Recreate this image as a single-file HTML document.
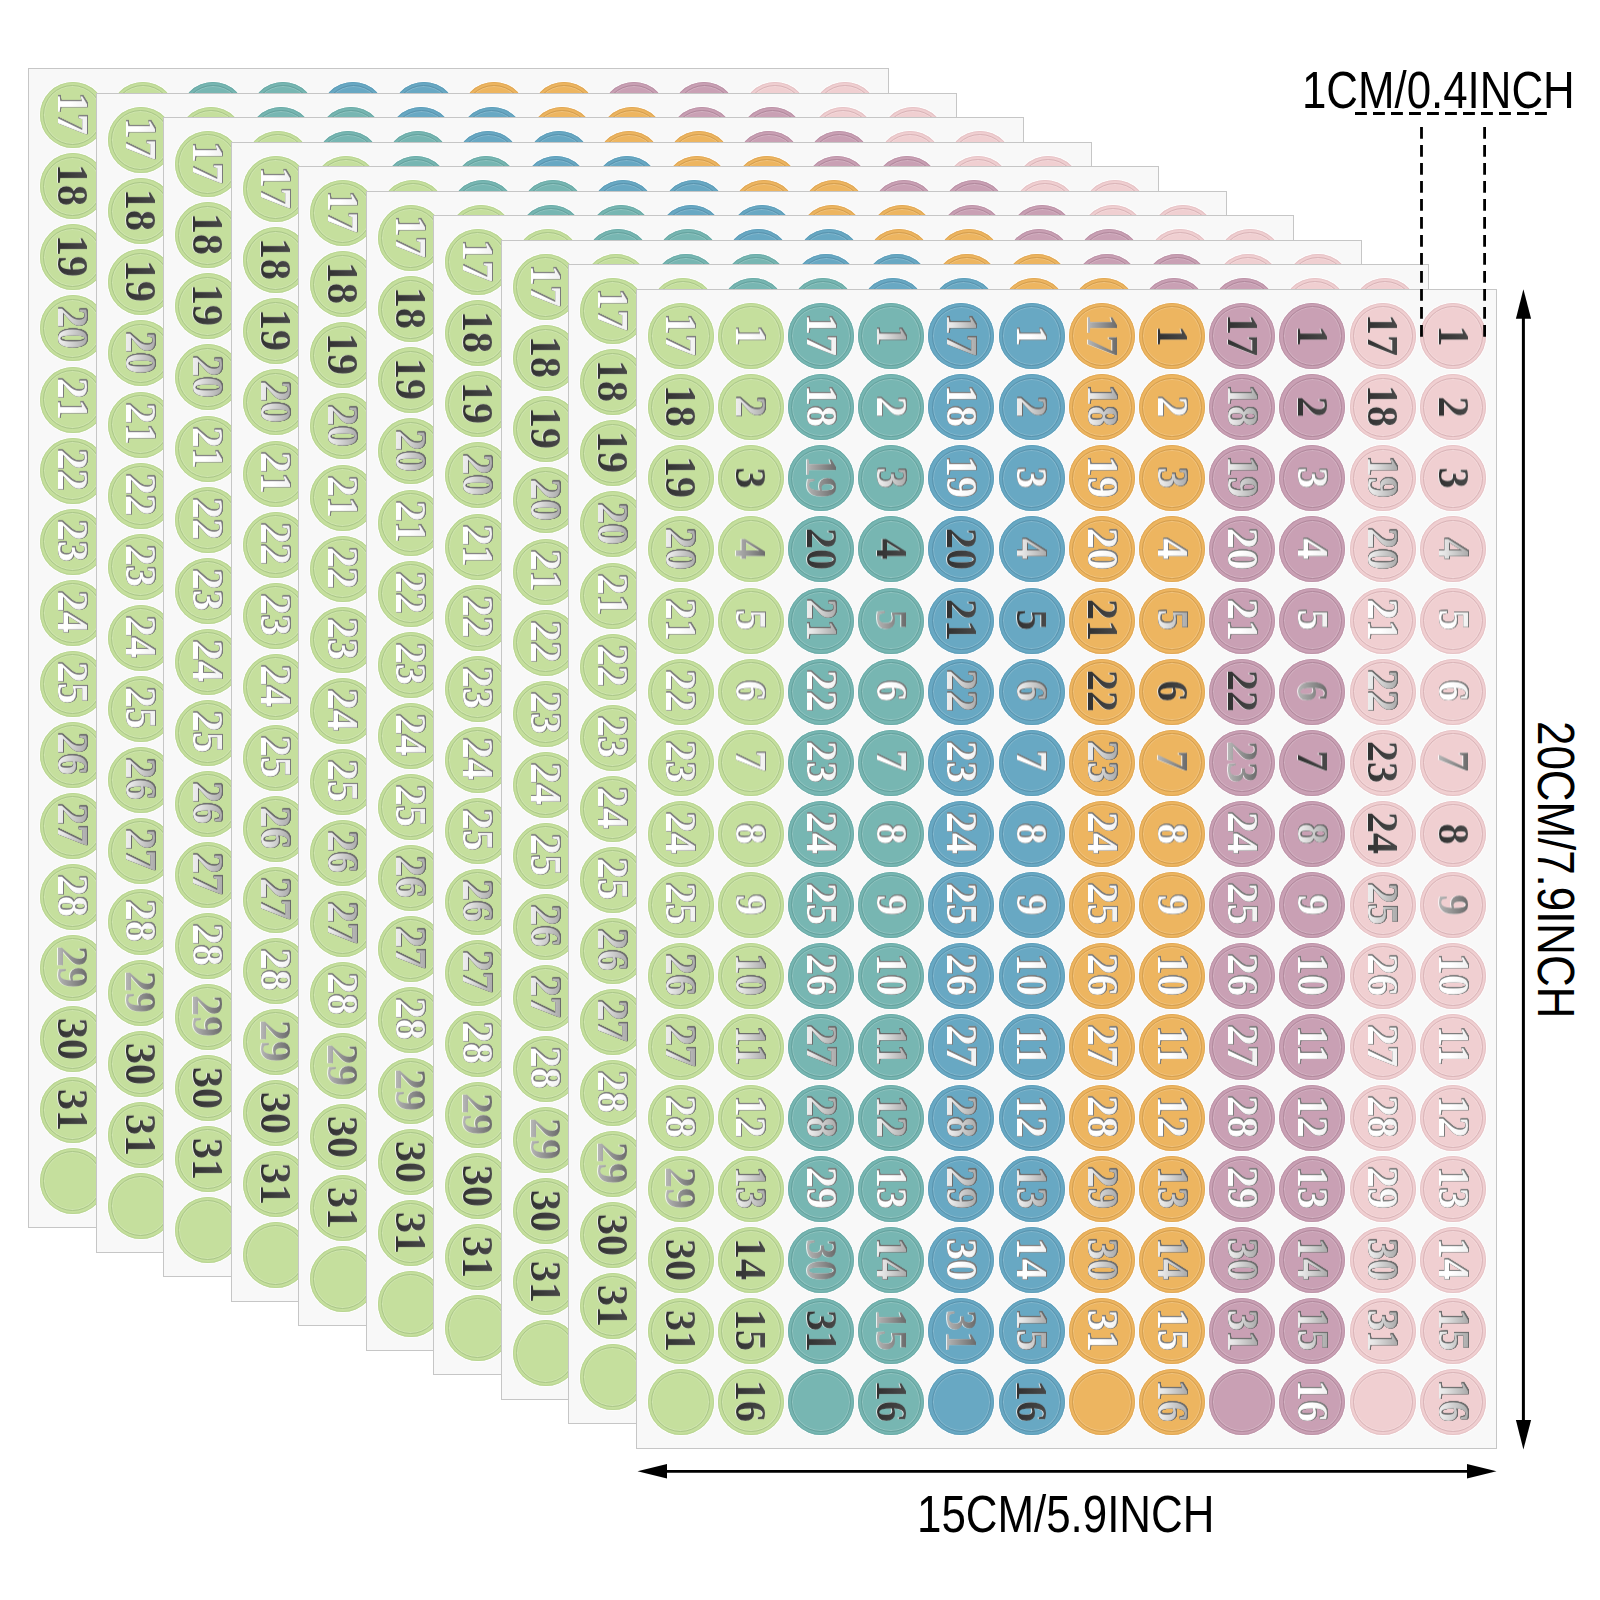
<!DOCTYPE html>
<html><head><meta charset="utf-8"><title>Number stickers</title><style>
*{margin:0;padding:0;box-sizing:border-box}
html,body{width:1600px;height:1600px;background:#fff;overflow:hidden}
body{position:relative;font-family:"Liberation Serif",serif}
.s{position:absolute;width:861px;height:1160px;background:#f8f8f8;border:1px solid #c6c6c6}
.c{position:absolute;width:66px;height:66px;border-radius:50%}
.c::after{content:"";position:absolute;left:3.2px;top:3.2px;right:3.2px;bottom:3.2px;border-radius:50%;border:1.1px solid var(--r);box-shadow:inset 0 0 0 1px rgba(255,255,255,.18)}
.cg{--r:#aac689;background:#c5df9d;box-shadow:inset 0 0 0 1px #b9d592,0 0 1px 1px rgba(255,255,255,.8)}
.ct{--r:#64a19d;background:#77b6b2;box-shadow:inset 0 0 0 1px #6cacA8,0 0 1px 1px rgba(255,255,255,.8)}
.cb{--r:#5892ad;background:#68a8c3;box-shadow:inset 0 0 0 1px #5f9fba,0 0 1px 1px rgba(255,255,255,.8)}
.co{--r:#d39d4e;background:#edb560;box-shadow:inset 0 0 0 1px #e1a957,0 0 1px 1px rgba(255,255,255,.8)}
.cm{--r:#b0879b;background:#c9a0b4;box-shadow:inset 0 0 0 1px #bd94a8,0 0 1px 1px rgba(255,255,255,.8)}
.cp{--r:#d9b3b7;background:#f0cfd1;box-shadow:inset 0 0 0 1px #e6c3c6,0 0 1px 1px rgba(255,255,255,.8)}
.n{position:absolute;font-style:normal;font-weight:bold;font-size:44px;line-height:1;white-space:nowrap;transform:translate(-50%,-50%) rotate(90deg) scaleX(.96);-webkit-background-clip:text;background-clip:text;color:transparent}
.tw{background-image:linear-gradient(180deg,#ebebeb,#fff 55%);filter:drop-shadow(.5px 0 0 #7a7a7a) drop-shadow(-.5px 0 0 #7a7a7a) drop-shadow(0 .5px 0 #7a7a7a) drop-shadow(0 -.5px 0 #7a7a7a)}
.tl{background-image:linear-gradient(180deg,#9a9a9a,#e6e6e6 70%,#f8f8f8);filter:drop-shadow(.5px 0 0 #6a6a6a) drop-shadow(-.5px 0 0 #6a6a6a) drop-shadow(0 .5px 0 #6a6a6a) drop-shadow(0 -.5px 0 #6a6a6a)}
.tm{background-image:linear-gradient(180deg,#5a5a5a,#a6a6a6 70%,#cfcfcf);filter:drop-shadow(0 1px 0 rgba(255,255,255,.8))}
.td{background-image:linear-gradient(180deg,#4e4e4e,#2b2b2b);filter:drop-shadow(0 1.2px 0 rgba(240,240,240,.9))}
.lab{position:absolute;font-family:"Liberation Sans",sans-serif;color:#000;line-height:1;white-space:nowrap;transform-origin:0 0}
</style></head>
<body>
<div class="s" style="left:28px;top:68px"><div class="c cg" style="left:10.60px;top:13.25px"><i class="n tw" style="left:32.7px;top:31.8px">17</i></div><div class="c cg" style="left:10.60px;top:84.32px"><i class="n td" style="left:32.7px;top:31.8px">18</i></div><div class="c cg" style="left:10.60px;top:155.39px"><i class="n td" style="left:32.7px;top:31.8px">19</i></div><div class="c cg" style="left:10.60px;top:226.46px"><i class="n tl" style="left:32.7px;top:32.8px">20</i></div><div class="c cg" style="left:10.60px;top:297.53px"><i class="n tw" style="left:32.7px;top:32.8px">21</i></div><div class="c cg" style="left:10.60px;top:368.60px"><i class="n tw" style="left:32.7px;top:32.8px">22</i></div><div class="c cg" style="left:10.60px;top:439.67px"><i class="n tw" style="left:32.7px;top:32.3px">23</i></div><div class="c cg" style="left:10.60px;top:510.74px"><i class="n tw" style="left:32.7px;top:32.3px">24</i></div><div class="c cg" style="left:10.60px;top:581.81px"><i class="n tw" style="left:32.7px;top:32.3px">25</i></div><div class="c cg" style="left:10.60px;top:652.88px"><i class="n tl" style="left:32.7px;top:32.3px">26</i></div><div class="c cg" style="left:10.60px;top:723.95px"><i class="n tl" style="left:32.7px;top:32.3px">27</i></div><div class="c cg" style="left:10.60px;top:795.02px"><i class="n tw" style="left:32.7px;top:32.3px">28</i></div><div class="c cg" style="left:10.60px;top:866.09px"><i class="n tm" style="left:32.7px;top:32.3px">29</i></div><div class="c cg" style="left:10.60px;top:937.16px"><i class="n td" style="left:32.7px;top:32.8px">30</i></div><div class="c cg" style="left:10.60px;top:1008.23px"><i class="n td" style="left:32.7px;top:32.8px">31</i></div><div class="c cg" style="left:10.60px;top:1079.30px"></div><div class="c cg" style="left:80.81px;top:13.25px"><i class="n tw" style="left:32.7px;top:32.3px">1</i></div><div class="c ct" style="left:151.02px;top:13.25px"><i class="n tw" style="left:32.7px;top:31.8px">17</i></div><div class="c ct" style="left:221.23px;top:13.25px"><i class="n tl" style="left:32.7px;top:32.3px">1</i></div><div class="c cb" style="left:291.44px;top:13.25px"><i class="n tl" style="left:32.7px;top:31.8px">17</i></div><div class="c cb" style="left:361.65px;top:13.25px"><i class="n tw" style="left:32.7px;top:32.3px">1</i></div><div class="c co" style="left:431.86px;top:13.25px"><i class="n tm" style="left:32.7px;top:31.8px">17</i></div><div class="c co" style="left:502.07px;top:13.25px"><i class="n td" style="left:32.7px;top:32.3px">1</i></div><div class="c cm" style="left:572.28px;top:13.25px"><i class="n td" style="left:32.7px;top:31.8px">17</i></div><div class="c cm" style="left:642.49px;top:13.25px"><i class="n td" style="left:32.7px;top:32.3px">1</i></div><div class="c cp" style="left:712.70px;top:13.25px"><i class="n td" style="left:32.7px;top:31.8px">17</i></div><div class="c cp" style="left:782.91px;top:13.25px"><i class="n td" style="left:32.7px;top:32.3px">1</i></div></div><div class="s" style="left:96px;top:93px"><div class="c cg" style="left:10.60px;top:13.25px"><i class="n tw" style="left:32.7px;top:31.8px">17</i></div><div class="c cg" style="left:10.60px;top:84.32px"><i class="n td" style="left:32.7px;top:31.8px">18</i></div><div class="c cg" style="left:10.60px;top:155.39px"><i class="n td" style="left:32.7px;top:31.8px">19</i></div><div class="c cg" style="left:10.60px;top:226.46px"><i class="n tl" style="left:32.7px;top:32.8px">20</i></div><div class="c cg" style="left:10.60px;top:297.53px"><i class="n tw" style="left:32.7px;top:32.8px">21</i></div><div class="c cg" style="left:10.60px;top:368.60px"><i class="n tw" style="left:32.7px;top:32.8px">22</i></div><div class="c cg" style="left:10.60px;top:439.67px"><i class="n tw" style="left:32.7px;top:32.3px">23</i></div><div class="c cg" style="left:10.60px;top:510.74px"><i class="n tw" style="left:32.7px;top:32.3px">24</i></div><div class="c cg" style="left:10.60px;top:581.81px"><i class="n tw" style="left:32.7px;top:32.3px">25</i></div><div class="c cg" style="left:10.60px;top:652.88px"><i class="n tl" style="left:32.7px;top:32.3px">26</i></div><div class="c cg" style="left:10.60px;top:723.95px"><i class="n tl" style="left:32.7px;top:32.3px">27</i></div><div class="c cg" style="left:10.60px;top:795.02px"><i class="n tw" style="left:32.7px;top:32.3px">28</i></div><div class="c cg" style="left:10.60px;top:866.09px"><i class="n tm" style="left:32.7px;top:32.3px">29</i></div><div class="c cg" style="left:10.60px;top:937.16px"><i class="n td" style="left:32.7px;top:32.8px">30</i></div><div class="c cg" style="left:10.60px;top:1008.23px"><i class="n td" style="left:32.7px;top:32.8px">31</i></div><div class="c cg" style="left:10.60px;top:1079.30px"></div><div class="c cg" style="left:80.81px;top:13.25px"><i class="n tw" style="left:32.7px;top:32.3px">1</i></div><div class="c ct" style="left:151.02px;top:13.25px"><i class="n tw" style="left:32.7px;top:31.8px">17</i></div><div class="c ct" style="left:221.23px;top:13.25px"><i class="n tl" style="left:32.7px;top:32.3px">1</i></div><div class="c cb" style="left:291.44px;top:13.25px"><i class="n tl" style="left:32.7px;top:31.8px">17</i></div><div class="c cb" style="left:361.65px;top:13.25px"><i class="n tw" style="left:32.7px;top:32.3px">1</i></div><div class="c co" style="left:431.86px;top:13.25px"><i class="n tm" style="left:32.7px;top:31.8px">17</i></div><div class="c co" style="left:502.07px;top:13.25px"><i class="n td" style="left:32.7px;top:32.3px">1</i></div><div class="c cm" style="left:572.28px;top:13.25px"><i class="n td" style="left:32.7px;top:31.8px">17</i></div><div class="c cm" style="left:642.49px;top:13.25px"><i class="n td" style="left:32.7px;top:32.3px">1</i></div><div class="c cp" style="left:712.70px;top:13.25px"><i class="n td" style="left:32.7px;top:31.8px">17</i></div><div class="c cp" style="left:782.91px;top:13.25px"><i class="n td" style="left:32.7px;top:32.3px">1</i></div></div><div class="s" style="left:163px;top:117px"><div class="c cg" style="left:10.60px;top:13.25px"><i class="n tw" style="left:32.7px;top:31.8px">17</i></div><div class="c cg" style="left:10.60px;top:84.32px"><i class="n td" style="left:32.7px;top:31.8px">18</i></div><div class="c cg" style="left:10.60px;top:155.39px"><i class="n td" style="left:32.7px;top:31.8px">19</i></div><div class="c cg" style="left:10.60px;top:226.46px"><i class="n tl" style="left:32.7px;top:32.8px">20</i></div><div class="c cg" style="left:10.60px;top:297.53px"><i class="n tw" style="left:32.7px;top:32.8px">21</i></div><div class="c cg" style="left:10.60px;top:368.60px"><i class="n tw" style="left:32.7px;top:32.8px">22</i></div><div class="c cg" style="left:10.60px;top:439.67px"><i class="n tw" style="left:32.7px;top:32.3px">23</i></div><div class="c cg" style="left:10.60px;top:510.74px"><i class="n tw" style="left:32.7px;top:32.3px">24</i></div><div class="c cg" style="left:10.60px;top:581.81px"><i class="n tw" style="left:32.7px;top:32.3px">25</i></div><div class="c cg" style="left:10.60px;top:652.88px"><i class="n tl" style="left:32.7px;top:32.3px">26</i></div><div class="c cg" style="left:10.60px;top:723.95px"><i class="n tl" style="left:32.7px;top:32.3px">27</i></div><div class="c cg" style="left:10.60px;top:795.02px"><i class="n tw" style="left:32.7px;top:32.3px">28</i></div><div class="c cg" style="left:10.60px;top:866.09px"><i class="n tm" style="left:32.7px;top:32.3px">29</i></div><div class="c cg" style="left:10.60px;top:937.16px"><i class="n td" style="left:32.7px;top:32.8px">30</i></div><div class="c cg" style="left:10.60px;top:1008.23px"><i class="n td" style="left:32.7px;top:32.8px">31</i></div><div class="c cg" style="left:10.60px;top:1079.30px"></div><div class="c cg" style="left:80.81px;top:13.25px"><i class="n tw" style="left:32.7px;top:32.3px">1</i></div><div class="c ct" style="left:151.02px;top:13.25px"><i class="n tw" style="left:32.7px;top:31.8px">17</i></div><div class="c ct" style="left:221.23px;top:13.25px"><i class="n tl" style="left:32.7px;top:32.3px">1</i></div><div class="c cb" style="left:291.44px;top:13.25px"><i class="n tl" style="left:32.7px;top:31.8px">17</i></div><div class="c cb" style="left:361.65px;top:13.25px"><i class="n tw" style="left:32.7px;top:32.3px">1</i></div><div class="c co" style="left:431.86px;top:13.25px"><i class="n tm" style="left:32.7px;top:31.8px">17</i></div><div class="c co" style="left:502.07px;top:13.25px"><i class="n td" style="left:32.7px;top:32.3px">1</i></div><div class="c cm" style="left:572.28px;top:13.25px"><i class="n td" style="left:32.7px;top:31.8px">17</i></div><div class="c cm" style="left:642.49px;top:13.25px"><i class="n td" style="left:32.7px;top:32.3px">1</i></div><div class="c cp" style="left:712.70px;top:13.25px"><i class="n td" style="left:32.7px;top:31.8px">17</i></div><div class="c cp" style="left:782.91px;top:13.25px"><i class="n td" style="left:32.7px;top:32.3px">1</i></div></div><div class="s" style="left:231px;top:142px"><div class="c cg" style="left:10.60px;top:13.25px"><i class="n tw" style="left:32.7px;top:31.8px">17</i></div><div class="c cg" style="left:10.60px;top:84.32px"><i class="n td" style="left:32.7px;top:31.8px">18</i></div><div class="c cg" style="left:10.60px;top:155.39px"><i class="n td" style="left:32.7px;top:31.8px">19</i></div><div class="c cg" style="left:10.60px;top:226.46px"><i class="n tl" style="left:32.7px;top:32.8px">20</i></div><div class="c cg" style="left:10.60px;top:297.53px"><i class="n tw" style="left:32.7px;top:32.8px">21</i></div><div class="c cg" style="left:10.60px;top:368.60px"><i class="n tw" style="left:32.7px;top:32.8px">22</i></div><div class="c cg" style="left:10.60px;top:439.67px"><i class="n tw" style="left:32.7px;top:32.3px">23</i></div><div class="c cg" style="left:10.60px;top:510.74px"><i class="n tw" style="left:32.7px;top:32.3px">24</i></div><div class="c cg" style="left:10.60px;top:581.81px"><i class="n tw" style="left:32.7px;top:32.3px">25</i></div><div class="c cg" style="left:10.60px;top:652.88px"><i class="n tl" style="left:32.7px;top:32.3px">26</i></div><div class="c cg" style="left:10.60px;top:723.95px"><i class="n tl" style="left:32.7px;top:32.3px">27</i></div><div class="c cg" style="left:10.60px;top:795.02px"><i class="n tw" style="left:32.7px;top:32.3px">28</i></div><div class="c cg" style="left:10.60px;top:866.09px"><i class="n tm" style="left:32.7px;top:32.3px">29</i></div><div class="c cg" style="left:10.60px;top:937.16px"><i class="n td" style="left:32.7px;top:32.8px">30</i></div><div class="c cg" style="left:10.60px;top:1008.23px"><i class="n td" style="left:32.7px;top:32.8px">31</i></div><div class="c cg" style="left:10.60px;top:1079.30px"></div><div class="c cg" style="left:80.81px;top:13.25px"><i class="n tw" style="left:32.7px;top:32.3px">1</i></div><div class="c ct" style="left:151.02px;top:13.25px"><i class="n tw" style="left:32.7px;top:31.8px">17</i></div><div class="c ct" style="left:221.23px;top:13.25px"><i class="n tl" style="left:32.7px;top:32.3px">1</i></div><div class="c cb" style="left:291.44px;top:13.25px"><i class="n tl" style="left:32.7px;top:31.8px">17</i></div><div class="c cb" style="left:361.65px;top:13.25px"><i class="n tw" style="left:32.7px;top:32.3px">1</i></div><div class="c co" style="left:431.86px;top:13.25px"><i class="n tm" style="left:32.7px;top:31.8px">17</i></div><div class="c co" style="left:502.07px;top:13.25px"><i class="n td" style="left:32.7px;top:32.3px">1</i></div><div class="c cm" style="left:572.28px;top:13.25px"><i class="n td" style="left:32.7px;top:31.8px">17</i></div><div class="c cm" style="left:642.49px;top:13.25px"><i class="n td" style="left:32.7px;top:32.3px">1</i></div><div class="c cp" style="left:712.70px;top:13.25px"><i class="n td" style="left:32.7px;top:31.8px">17</i></div><div class="c cp" style="left:782.91px;top:13.25px"><i class="n td" style="left:32.7px;top:32.3px">1</i></div></div><div class="s" style="left:298px;top:166px"><div class="c cg" style="left:10.60px;top:13.25px"><i class="n tw" style="left:32.7px;top:31.8px">17</i></div><div class="c cg" style="left:10.60px;top:84.32px"><i class="n td" style="left:32.7px;top:31.8px">18</i></div><div class="c cg" style="left:10.60px;top:155.39px"><i class="n td" style="left:32.7px;top:31.8px">19</i></div><div class="c cg" style="left:10.60px;top:226.46px"><i class="n tl" style="left:32.7px;top:32.8px">20</i></div><div class="c cg" style="left:10.60px;top:297.53px"><i class="n tw" style="left:32.7px;top:32.8px">21</i></div><div class="c cg" style="left:10.60px;top:368.60px"><i class="n tw" style="left:32.7px;top:32.8px">22</i></div><div class="c cg" style="left:10.60px;top:439.67px"><i class="n tw" style="left:32.7px;top:32.3px">23</i></div><div class="c cg" style="left:10.60px;top:510.74px"><i class="n tw" style="left:32.7px;top:32.3px">24</i></div><div class="c cg" style="left:10.60px;top:581.81px"><i class="n tw" style="left:32.7px;top:32.3px">25</i></div><div class="c cg" style="left:10.60px;top:652.88px"><i class="n tl" style="left:32.7px;top:32.3px">26</i></div><div class="c cg" style="left:10.60px;top:723.95px"><i class="n tl" style="left:32.7px;top:32.3px">27</i></div><div class="c cg" style="left:10.60px;top:795.02px"><i class="n tw" style="left:32.7px;top:32.3px">28</i></div><div class="c cg" style="left:10.60px;top:866.09px"><i class="n tm" style="left:32.7px;top:32.3px">29</i></div><div class="c cg" style="left:10.60px;top:937.16px"><i class="n td" style="left:32.7px;top:32.8px">30</i></div><div class="c cg" style="left:10.60px;top:1008.23px"><i class="n td" style="left:32.7px;top:32.8px">31</i></div><div class="c cg" style="left:10.60px;top:1079.30px"></div><div class="c cg" style="left:80.81px;top:13.25px"><i class="n tw" style="left:32.7px;top:32.3px">1</i></div><div class="c ct" style="left:151.02px;top:13.25px"><i class="n tw" style="left:32.7px;top:31.8px">17</i></div><div class="c ct" style="left:221.23px;top:13.25px"><i class="n tl" style="left:32.7px;top:32.3px">1</i></div><div class="c cb" style="left:291.44px;top:13.25px"><i class="n tl" style="left:32.7px;top:31.8px">17</i></div><div class="c cb" style="left:361.65px;top:13.25px"><i class="n tw" style="left:32.7px;top:32.3px">1</i></div><div class="c co" style="left:431.86px;top:13.25px"><i class="n tm" style="left:32.7px;top:31.8px">17</i></div><div class="c co" style="left:502.07px;top:13.25px"><i class="n td" style="left:32.7px;top:32.3px">1</i></div><div class="c cm" style="left:572.28px;top:13.25px"><i class="n td" style="left:32.7px;top:31.8px">17</i></div><div class="c cm" style="left:642.49px;top:13.25px"><i class="n td" style="left:32.7px;top:32.3px">1</i></div><div class="c cp" style="left:712.70px;top:13.25px"><i class="n td" style="left:32.7px;top:31.8px">17</i></div><div class="c cp" style="left:782.91px;top:13.25px"><i class="n td" style="left:32.7px;top:32.3px">1</i></div></div><div class="s" style="left:366px;top:191px"><div class="c cg" style="left:10.60px;top:13.25px"><i class="n tw" style="left:32.7px;top:31.8px">17</i></div><div class="c cg" style="left:10.60px;top:84.32px"><i class="n td" style="left:32.7px;top:31.8px">18</i></div><div class="c cg" style="left:10.60px;top:155.39px"><i class="n td" style="left:32.7px;top:31.8px">19</i></div><div class="c cg" style="left:10.60px;top:226.46px"><i class="n tl" style="left:32.7px;top:32.8px">20</i></div><div class="c cg" style="left:10.60px;top:297.53px"><i class="n tw" style="left:32.7px;top:32.8px">21</i></div><div class="c cg" style="left:10.60px;top:368.60px"><i class="n tw" style="left:32.7px;top:32.8px">22</i></div><div class="c cg" style="left:10.60px;top:439.67px"><i class="n tw" style="left:32.7px;top:32.3px">23</i></div><div class="c cg" style="left:10.60px;top:510.74px"><i class="n tw" style="left:32.7px;top:32.3px">24</i></div><div class="c cg" style="left:10.60px;top:581.81px"><i class="n tw" style="left:32.7px;top:32.3px">25</i></div><div class="c cg" style="left:10.60px;top:652.88px"><i class="n tl" style="left:32.7px;top:32.3px">26</i></div><div class="c cg" style="left:10.60px;top:723.95px"><i class="n tl" style="left:32.7px;top:32.3px">27</i></div><div class="c cg" style="left:10.60px;top:795.02px"><i class="n tw" style="left:32.7px;top:32.3px">28</i></div><div class="c cg" style="left:10.60px;top:866.09px"><i class="n tm" style="left:32.7px;top:32.3px">29</i></div><div class="c cg" style="left:10.60px;top:937.16px"><i class="n td" style="left:32.7px;top:32.8px">30</i></div><div class="c cg" style="left:10.60px;top:1008.23px"><i class="n td" style="left:32.7px;top:32.8px">31</i></div><div class="c cg" style="left:10.60px;top:1079.30px"></div><div class="c cg" style="left:80.81px;top:13.25px"><i class="n tw" style="left:32.7px;top:32.3px">1</i></div><div class="c ct" style="left:151.02px;top:13.25px"><i class="n tw" style="left:32.7px;top:31.8px">17</i></div><div class="c ct" style="left:221.23px;top:13.25px"><i class="n tl" style="left:32.7px;top:32.3px">1</i></div><div class="c cb" style="left:291.44px;top:13.25px"><i class="n tl" style="left:32.7px;top:31.8px">17</i></div><div class="c cb" style="left:361.65px;top:13.25px"><i class="n tw" style="left:32.7px;top:32.3px">1</i></div><div class="c co" style="left:431.86px;top:13.25px"><i class="n tm" style="left:32.7px;top:31.8px">17</i></div><div class="c co" style="left:502.07px;top:13.25px"><i class="n td" style="left:32.7px;top:32.3px">1</i></div><div class="c cm" style="left:572.28px;top:13.25px"><i class="n td" style="left:32.7px;top:31.8px">17</i></div><div class="c cm" style="left:642.49px;top:13.25px"><i class="n td" style="left:32.7px;top:32.3px">1</i></div><div class="c cp" style="left:712.70px;top:13.25px"><i class="n td" style="left:32.7px;top:31.8px">17</i></div><div class="c cp" style="left:782.91px;top:13.25px"><i class="n td" style="left:32.7px;top:32.3px">1</i></div></div><div class="s" style="left:433px;top:215px"><div class="c cg" style="left:10.60px;top:13.25px"><i class="n tw" style="left:32.7px;top:31.8px">17</i></div><div class="c cg" style="left:10.60px;top:84.32px"><i class="n td" style="left:32.7px;top:31.8px">18</i></div><div class="c cg" style="left:10.60px;top:155.39px"><i class="n td" style="left:32.7px;top:31.8px">19</i></div><div class="c cg" style="left:10.60px;top:226.46px"><i class="n tl" style="left:32.7px;top:32.8px">20</i></div><div class="c cg" style="left:10.60px;top:297.53px"><i class="n tw" style="left:32.7px;top:32.8px">21</i></div><div class="c cg" style="left:10.60px;top:368.60px"><i class="n tw" style="left:32.7px;top:32.8px">22</i></div><div class="c cg" style="left:10.60px;top:439.67px"><i class="n tw" style="left:32.7px;top:32.3px">23</i></div><div class="c cg" style="left:10.60px;top:510.74px"><i class="n tw" style="left:32.7px;top:32.3px">24</i></div><div class="c cg" style="left:10.60px;top:581.81px"><i class="n tw" style="left:32.7px;top:32.3px">25</i></div><div class="c cg" style="left:10.60px;top:652.88px"><i class="n tl" style="left:32.7px;top:32.3px">26</i></div><div class="c cg" style="left:10.60px;top:723.95px"><i class="n tl" style="left:32.7px;top:32.3px">27</i></div><div class="c cg" style="left:10.60px;top:795.02px"><i class="n tw" style="left:32.7px;top:32.3px">28</i></div><div class="c cg" style="left:10.60px;top:866.09px"><i class="n tm" style="left:32.7px;top:32.3px">29</i></div><div class="c cg" style="left:10.60px;top:937.16px"><i class="n td" style="left:32.7px;top:32.8px">30</i></div><div class="c cg" style="left:10.60px;top:1008.23px"><i class="n td" style="left:32.7px;top:32.8px">31</i></div><div class="c cg" style="left:10.60px;top:1079.30px"></div><div class="c cg" style="left:80.81px;top:13.25px"><i class="n tw" style="left:32.7px;top:32.3px">1</i></div><div class="c ct" style="left:151.02px;top:13.25px"><i class="n tw" style="left:32.7px;top:31.8px">17</i></div><div class="c ct" style="left:221.23px;top:13.25px"><i class="n tl" style="left:32.7px;top:32.3px">1</i></div><div class="c cb" style="left:291.44px;top:13.25px"><i class="n tl" style="left:32.7px;top:31.8px">17</i></div><div class="c cb" style="left:361.65px;top:13.25px"><i class="n tw" style="left:32.7px;top:32.3px">1</i></div><div class="c co" style="left:431.86px;top:13.25px"><i class="n tm" style="left:32.7px;top:31.8px">17</i></div><div class="c co" style="left:502.07px;top:13.25px"><i class="n td" style="left:32.7px;top:32.3px">1</i></div><div class="c cm" style="left:572.28px;top:13.25px"><i class="n td" style="left:32.7px;top:31.8px">17</i></div><div class="c cm" style="left:642.49px;top:13.25px"><i class="n td" style="left:32.7px;top:32.3px">1</i></div><div class="c cp" style="left:712.70px;top:13.25px"><i class="n td" style="left:32.7px;top:31.8px">17</i></div><div class="c cp" style="left:782.91px;top:13.25px"><i class="n td" style="left:32.7px;top:32.3px">1</i></div></div><div class="s" style="left:501px;top:240px"><div class="c cg" style="left:10.60px;top:13.25px"><i class="n tw" style="left:32.7px;top:31.8px">17</i></div><div class="c cg" style="left:10.60px;top:84.32px"><i class="n td" style="left:32.7px;top:31.8px">18</i></div><div class="c cg" style="left:10.60px;top:155.39px"><i class="n td" style="left:32.7px;top:31.8px">19</i></div><div class="c cg" style="left:10.60px;top:226.46px"><i class="n tl" style="left:32.7px;top:32.8px">20</i></div><div class="c cg" style="left:10.60px;top:297.53px"><i class="n tw" style="left:32.7px;top:32.8px">21</i></div><div class="c cg" style="left:10.60px;top:368.60px"><i class="n tw" style="left:32.7px;top:32.8px">22</i></div><div class="c cg" style="left:10.60px;top:439.67px"><i class="n tw" style="left:32.7px;top:32.3px">23</i></div><div class="c cg" style="left:10.60px;top:510.74px"><i class="n tw" style="left:32.7px;top:32.3px">24</i></div><div class="c cg" style="left:10.60px;top:581.81px"><i class="n tw" style="left:32.7px;top:32.3px">25</i></div><div class="c cg" style="left:10.60px;top:652.88px"><i class="n tl" style="left:32.7px;top:32.3px">26</i></div><div class="c cg" style="left:10.60px;top:723.95px"><i class="n tl" style="left:32.7px;top:32.3px">27</i></div><div class="c cg" style="left:10.60px;top:795.02px"><i class="n tw" style="left:32.7px;top:32.3px">28</i></div><div class="c cg" style="left:10.60px;top:866.09px"><i class="n tm" style="left:32.7px;top:32.3px">29</i></div><div class="c cg" style="left:10.60px;top:937.16px"><i class="n td" style="left:32.7px;top:32.8px">30</i></div><div class="c cg" style="left:10.60px;top:1008.23px"><i class="n td" style="left:32.7px;top:32.8px">31</i></div><div class="c cg" style="left:10.60px;top:1079.30px"></div><div class="c cg" style="left:80.81px;top:13.25px"><i class="n tw" style="left:32.7px;top:32.3px">1</i></div><div class="c ct" style="left:151.02px;top:13.25px"><i class="n tw" style="left:32.7px;top:31.8px">17</i></div><div class="c ct" style="left:221.23px;top:13.25px"><i class="n tl" style="left:32.7px;top:32.3px">1</i></div><div class="c cb" style="left:291.44px;top:13.25px"><i class="n tl" style="left:32.7px;top:31.8px">17</i></div><div class="c cb" style="left:361.65px;top:13.25px"><i class="n tw" style="left:32.7px;top:32.3px">1</i></div><div class="c co" style="left:431.86px;top:13.25px"><i class="n tm" style="left:32.7px;top:31.8px">17</i></div><div class="c co" style="left:502.07px;top:13.25px"><i class="n td" style="left:32.7px;top:32.3px">1</i></div><div class="c cm" style="left:572.28px;top:13.25px"><i class="n td" style="left:32.7px;top:31.8px">17</i></div><div class="c cm" style="left:642.49px;top:13.25px"><i class="n td" style="left:32.7px;top:32.3px">1</i></div><div class="c cp" style="left:712.70px;top:13.25px"><i class="n td" style="left:32.7px;top:31.8px">17</i></div><div class="c cp" style="left:782.91px;top:13.25px"><i class="n td" style="left:32.7px;top:32.3px">1</i></div></div><div class="s" style="left:568px;top:264px"><div class="c cg" style="left:10.60px;top:13.25px"><i class="n tw" style="left:32.7px;top:31.8px">17</i></div><div class="c cg" style="left:10.60px;top:84.32px"><i class="n td" style="left:32.7px;top:31.8px">18</i></div><div class="c cg" style="left:10.60px;top:155.39px"><i class="n td" style="left:32.7px;top:31.8px">19</i></div><div class="c cg" style="left:10.60px;top:226.46px"><i class="n tl" style="left:32.7px;top:32.8px">20</i></div><div class="c cg" style="left:10.60px;top:297.53px"><i class="n tw" style="left:32.7px;top:32.8px">21</i></div><div class="c cg" style="left:10.60px;top:368.60px"><i class="n tw" style="left:32.7px;top:32.8px">22</i></div><div class="c cg" style="left:10.60px;top:439.67px"><i class="n tw" style="left:32.7px;top:32.3px">23</i></div><div class="c cg" style="left:10.60px;top:510.74px"><i class="n tw" style="left:32.7px;top:32.3px">24</i></div><div class="c cg" style="left:10.60px;top:581.81px"><i class="n tw" style="left:32.7px;top:32.3px">25</i></div><div class="c cg" style="left:10.60px;top:652.88px"><i class="n tl" style="left:32.7px;top:32.3px">26</i></div><div class="c cg" style="left:10.60px;top:723.95px"><i class="n tl" style="left:32.7px;top:32.3px">27</i></div><div class="c cg" style="left:10.60px;top:795.02px"><i class="n tw" style="left:32.7px;top:32.3px">28</i></div><div class="c cg" style="left:10.60px;top:866.09px"><i class="n tm" style="left:32.7px;top:32.3px">29</i></div><div class="c cg" style="left:10.60px;top:937.16px"><i class="n td" style="left:32.7px;top:32.8px">30</i></div><div class="c cg" style="left:10.60px;top:1008.23px"><i class="n td" style="left:32.7px;top:32.8px">31</i></div><div class="c cg" style="left:10.60px;top:1079.30px"></div><div class="c cg" style="left:80.81px;top:13.25px"><i class="n tw" style="left:32.7px;top:32.3px">1</i></div><div class="c ct" style="left:151.02px;top:13.25px"><i class="n tw" style="left:32.7px;top:31.8px">17</i></div><div class="c ct" style="left:221.23px;top:13.25px"><i class="n tl" style="left:32.7px;top:32.3px">1</i></div><div class="c cb" style="left:291.44px;top:13.25px"><i class="n tl" style="left:32.7px;top:31.8px">17</i></div><div class="c cb" style="left:361.65px;top:13.25px"><i class="n tw" style="left:32.7px;top:32.3px">1</i></div><div class="c co" style="left:431.86px;top:13.25px"><i class="n tm" style="left:32.7px;top:31.8px">17</i></div><div class="c co" style="left:502.07px;top:13.25px"><i class="n td" style="left:32.7px;top:32.3px">1</i></div><div class="c cm" style="left:572.28px;top:13.25px"><i class="n td" style="left:32.7px;top:31.8px">17</i></div><div class="c cm" style="left:642.49px;top:13.25px"><i class="n td" style="left:32.7px;top:32.3px">1</i></div><div class="c cp" style="left:712.70px;top:13.25px"><i class="n td" style="left:32.7px;top:31.8px">17</i></div><div class="c cp" style="left:782.91px;top:13.25px"><i class="n td" style="left:32.7px;top:32.3px">1</i></div></div><div class="s" style="left:636px;top:289px"><div class="c cg" style="left:10.60px;top:13.25px"><i class="n tw" style="left:32.7px;top:31.8px">17</i></div><div class="c cg" style="left:10.60px;top:84.32px"><i class="n td" style="left:32.7px;top:31.8px">18</i></div><div class="c cg" style="left:10.60px;top:155.39px"><i class="n td" style="left:32.7px;top:31.8px">19</i></div><div class="c cg" style="left:10.60px;top:226.46px"><i class="n tl" style="left:32.7px;top:32.8px">20</i></div><div class="c cg" style="left:10.60px;top:297.53px"><i class="n tw" style="left:32.7px;top:32.8px">21</i></div><div class="c cg" style="left:10.60px;top:368.60px"><i class="n tw" style="left:32.7px;top:32.8px">22</i></div><div class="c cg" style="left:10.60px;top:439.67px"><i class="n tw" style="left:32.7px;top:32.3px">23</i></div><div class="c cg" style="left:10.60px;top:510.74px"><i class="n tw" style="left:32.7px;top:32.3px">24</i></div><div class="c cg" style="left:10.60px;top:581.81px"><i class="n tw" style="left:32.7px;top:32.3px">25</i></div><div class="c cg" style="left:10.60px;top:652.88px"><i class="n tl" style="left:32.7px;top:32.3px">26</i></div><div class="c cg" style="left:10.60px;top:723.95px"><i class="n tl" style="left:32.7px;top:32.3px">27</i></div><div class="c cg" style="left:10.60px;top:795.02px"><i class="n tw" style="left:32.7px;top:32.3px">28</i></div><div class="c cg" style="left:10.60px;top:866.09px"><i class="n tm" style="left:32.7px;top:32.3px">29</i></div><div class="c cg" style="left:10.60px;top:937.16px"><i class="n td" style="left:32.7px;top:32.8px">30</i></div><div class="c cg" style="left:10.60px;top:1008.23px"><i class="n td" style="left:32.7px;top:32.8px">31</i></div><div class="c cg" style="left:10.60px;top:1079.30px"></div><div class="c cg" style="left:80.81px;top:13.25px"><i class="n tw" style="left:32.7px;top:32.3px">1</i></div><div class="c cg" style="left:80.81px;top:84.32px"><i class="n tl" style="left:32.7px;top:32.8px">2</i></div><div class="c cg" style="left:80.81px;top:155.39px"><i class="n td" style="left:32.7px;top:32.8px">3</i></div><div class="c cg" style="left:80.81px;top:226.46px"><i class="n tm" style="left:32.7px;top:32.8px">4</i></div><div class="c cg" style="left:80.81px;top:297.53px"><i class="n tw" style="left:32.7px;top:32.8px">5</i></div><div class="c cg" style="left:80.81px;top:368.60px"><i class="n tw" style="left:32.7px;top:32.8px">6</i></div><div class="c cg" style="left:80.81px;top:439.67px"><i class="n tw" style="left:32.7px;top:31.8px">7</i></div><div class="c cg" style="left:80.81px;top:510.74px"><i class="n tw" style="left:32.7px;top:32.8px">8</i></div><div class="c cg" style="left:80.81px;top:581.81px"><i class="n tw" style="left:32.7px;top:32.8px">9</i></div><div class="c cg" style="left:80.81px;top:652.88px"><i class="n tl" style="left:32.7px;top:32.3px">10</i></div><div class="c cg" style="left:80.81px;top:723.95px"><i class="n tl" style="left:32.7px;top:32.3px">11</i></div><div class="c cg" style="left:80.81px;top:795.02px"><i class="n tw" style="left:32.7px;top:32.3px">12</i></div><div class="c cg" style="left:80.81px;top:866.09px"><i class="n tl" style="left:32.7px;top:31.8px">13</i></div><div class="c cg" style="left:80.81px;top:937.16px"><i class="n td" style="left:32.7px;top:31.8px">14</i></div><div class="c cg" style="left:80.81px;top:1008.23px"><i class="n td" style="left:32.7px;top:31.8px">15</i></div><div class="c cg" style="left:80.81px;top:1079.30px"><i class="n td" style="left:32.7px;top:31.8px">16</i></div><div class="c ct" style="left:151.02px;top:13.25px"><i class="n tw" style="left:32.7px;top:31.8px">17</i></div><div class="c ct" style="left:151.02px;top:84.32px"><i class="n tw" style="left:32.7px;top:31.8px">18</i></div><div class="c ct" style="left:151.02px;top:155.39px"><i class="n tm" style="left:32.7px;top:31.8px">19</i></div><div class="c ct" style="left:151.02px;top:226.46px"><i class="n td" style="left:32.7px;top:32.8px">20</i></div><div class="c ct" style="left:151.02px;top:297.53px"><i class="n tl" style="left:32.7px;top:32.8px">21</i></div><div class="c ct" style="left:151.02px;top:368.60px"><i class="n tw" style="left:32.7px;top:32.8px">22</i></div><div class="c ct" style="left:151.02px;top:439.67px"><i class="n tw" style="left:32.7px;top:32.3px">23</i></div><div class="c ct" style="left:151.02px;top:510.74px"><i class="n tw" style="left:32.7px;top:32.3px">24</i></div><div class="c ct" style="left:151.02px;top:581.81px"><i class="n tw" style="left:32.7px;top:32.3px">25</i></div><div class="c ct" style="left:151.02px;top:652.88px"><i class="n tw" style="left:32.7px;top:32.3px">26</i></div><div class="c ct" style="left:151.02px;top:723.95px"><i class="n tl" style="left:32.7px;top:32.3px">27</i></div><div class="c ct" style="left:151.02px;top:795.02px"><i class="n tl" style="left:32.7px;top:32.3px">28</i></div><div class="c ct" style="left:151.02px;top:866.09px"><i class="n tw" style="left:32.7px;top:32.3px">29</i></div><div class="c ct" style="left:151.02px;top:937.16px"><i class="n tm" style="left:32.7px;top:32.8px">30</i></div><div class="c ct" style="left:151.02px;top:1008.23px"><i class="n td" style="left:32.7px;top:32.8px">31</i></div><div class="c ct" style="left:151.02px;top:1079.30px"></div><div class="c ct" style="left:221.23px;top:13.25px"><i class="n tl" style="left:32.7px;top:32.3px">1</i></div><div class="c ct" style="left:221.23px;top:84.32px"><i class="n tw" style="left:32.7px;top:32.8px">2</i></div><div class="c ct" style="left:221.23px;top:155.39px"><i class="n tl" style="left:32.7px;top:32.8px">3</i></div><div class="c ct" style="left:221.23px;top:226.46px"><i class="n td" style="left:32.7px;top:32.8px">4</i></div><div class="c ct" style="left:221.23px;top:297.53px"><i class="n tm" style="left:32.7px;top:32.8px">5</i></div><div class="c ct" style="left:221.23px;top:368.60px"><i class="n tw" style="left:32.7px;top:32.8px">6</i></div><div class="c ct" style="left:221.23px;top:439.67px"><i class="n tw" style="left:32.7px;top:31.8px">7</i></div><div class="c ct" style="left:221.23px;top:510.74px"><i class="n tw" style="left:32.7px;top:32.8px">8</i></div><div class="c ct" style="left:221.23px;top:581.81px"><i class="n tw" style="left:32.7px;top:32.8px">9</i></div><div class="c ct" style="left:221.23px;top:652.88px"><i class="n tw" style="left:32.7px;top:32.3px">10</i></div><div class="c ct" style="left:221.23px;top:723.95px"><i class="n tl" style="left:32.7px;top:32.3px">11</i></div><div class="c ct" style="left:221.23px;top:795.02px"><i class="n tl" style="left:32.7px;top:32.3px">12</i></div><div class="c ct" style="left:221.23px;top:866.09px"><i class="n tw" style="left:32.7px;top:31.8px">13</i></div><div class="c ct" style="left:221.23px;top:937.16px"><i class="n tl" style="left:32.7px;top:31.8px">14</i></div><div class="c ct" style="left:221.23px;top:1008.23px"><i class="n tm" style="left:32.7px;top:31.8px">15</i></div><div class="c ct" style="left:221.23px;top:1079.30px"><i class="n td" style="left:32.7px;top:31.8px">16</i></div><div class="c cb" style="left:291.44px;top:13.25px"><i class="n tl" style="left:32.7px;top:31.8px">17</i></div><div class="c cb" style="left:291.44px;top:84.32px"><i class="n tw" style="left:32.7px;top:31.8px">18</i></div><div class="c cb" style="left:291.44px;top:155.39px"><i class="n tw" style="left:32.7px;top:31.8px">19</i></div><div class="c cb" style="left:291.44px;top:226.46px"><i class="n td" style="left:32.7px;top:32.8px">20</i></div><div class="c cb" style="left:291.44px;top:297.53px"><i class="n td" style="left:32.7px;top:32.8px">21</i></div><div class="c cb" style="left:291.44px;top:368.60px"><i class="n tl" style="left:32.7px;top:32.8px">22</i></div><div class="c cb" style="left:291.44px;top:439.67px"><i class="n tw" style="left:32.7px;top:32.3px">23</i></div><div class="c cb" style="left:291.44px;top:510.74px"><i class="n tw" style="left:32.7px;top:32.3px">24</i></div><div class="c cb" style="left:291.44px;top:581.81px"><i class="n tw" style="left:32.7px;top:32.3px">25</i></div><div class="c cb" style="left:291.44px;top:652.88px"><i class="n tw" style="left:32.7px;top:32.3px">26</i></div><div class="c cb" style="left:291.44px;top:723.95px"><i class="n tw" style="left:32.7px;top:32.3px">27</i></div><div class="c cb" style="left:291.44px;top:795.02px"><i class="n tl" style="left:32.7px;top:32.3px">28</i></div><div class="c cb" style="left:291.44px;top:866.09px"><i class="n tl" style="left:32.7px;top:32.3px">29</i></div><div class="c cb" style="left:291.44px;top:937.16px"><i class="n tw" style="left:32.7px;top:32.8px">30</i></div><div class="c cb" style="left:291.44px;top:1008.23px"><i class="n tm" style="left:32.7px;top:32.8px">31</i></div><div class="c cb" style="left:291.44px;top:1079.30px"></div><div class="c cb" style="left:361.65px;top:13.25px"><i class="n tw" style="left:32.7px;top:32.3px">1</i></div><div class="c cb" style="left:361.65px;top:84.32px"><i class="n tl" style="left:32.7px;top:32.8px">2</i></div><div class="c cb" style="left:361.65px;top:155.39px"><i class="n tw" style="left:32.7px;top:32.8px">3</i></div><div class="c cb" style="left:361.65px;top:226.46px"><i class="n tl" style="left:32.7px;top:32.8px">4</i></div><div class="c cb" style="left:361.65px;top:297.53px"><i class="n td" style="left:32.7px;top:32.8px">5</i></div><div class="c cb" style="left:361.65px;top:368.60px"><i class="n tl" style="left:32.7px;top:32.8px">6</i></div><div class="c cb" style="left:361.65px;top:439.67px"><i class="n tw" style="left:32.7px;top:31.8px">7</i></div><div class="c cb" style="left:361.65px;top:510.74px"><i class="n tw" style="left:32.7px;top:32.8px">8</i></div><div class="c cb" style="left:361.65px;top:581.81px"><i class="n tw" style="left:32.7px;top:32.8px">9</i></div><div class="c cb" style="left:361.65px;top:652.88px"><i class="n tw" style="left:32.7px;top:32.3px">10</i></div><div class="c cb" style="left:361.65px;top:723.95px"><i class="n tw" style="left:32.7px;top:32.3px">11</i></div><div class="c cb" style="left:361.65px;top:795.02px"><i class="n tw" style="left:32.7px;top:32.3px">12</i></div><div class="c cb" style="left:361.65px;top:866.09px"><i class="n tl" style="left:32.7px;top:31.8px">13</i></div><div class="c cb" style="left:361.65px;top:937.16px"><i class="n tw" style="left:32.7px;top:31.8px">14</i></div><div class="c cb" style="left:361.65px;top:1008.23px"><i class="n tl" style="left:32.7px;top:31.8px">15</i></div><div class="c cb" style="left:361.65px;top:1079.30px"><i class="n td" style="left:32.7px;top:31.8px">16</i></div><div class="c co" style="left:431.86px;top:13.25px"><i class="n tm" style="left:32.7px;top:31.8px">17</i></div><div class="c co" style="left:431.86px;top:84.32px"><i class="n tl" style="left:32.7px;top:31.8px">18</i></div><div class="c co" style="left:431.86px;top:155.39px"><i class="n tw" style="left:32.7px;top:31.8px">19</i></div><div class="c co" style="left:431.86px;top:226.46px"><i class="n tw" style="left:32.7px;top:32.8px">20</i></div><div class="c co" style="left:431.86px;top:297.53px"><i class="n td" style="left:32.7px;top:32.8px">21</i></div><div class="c co" style="left:431.86px;top:368.60px"><i class="n td" style="left:32.7px;top:32.8px">22</i></div><div class="c co" style="left:431.86px;top:439.67px"><i class="n tl" style="left:32.7px;top:32.3px">23</i></div><div class="c co" style="left:431.86px;top:510.74px"><i class="n tw" style="left:32.7px;top:32.3px">24</i></div><div class="c co" style="left:431.86px;top:581.81px"><i class="n tw" style="left:32.7px;top:32.3px">25</i></div><div class="c co" style="left:431.86px;top:652.88px"><i class="n tw" style="left:32.7px;top:32.3px">26</i></div><div class="c co" style="left:431.86px;top:723.95px"><i class="n tw" style="left:32.7px;top:32.3px">27</i></div><div class="c co" style="left:431.86px;top:795.02px"><i class="n tw" style="left:32.7px;top:32.3px">28</i></div><div class="c co" style="left:431.86px;top:866.09px"><i class="n tl" style="left:32.7px;top:32.3px">29</i></div><div class="c co" style="left:431.86px;top:937.16px"><i class="n tl" style="left:32.7px;top:32.8px">30</i></div><div class="c co" style="left:431.86px;top:1008.23px"><i class="n tw" style="left:32.7px;top:32.8px">31</i></div><div class="c co" style="left:431.86px;top:1079.30px"></div><div class="c co" style="left:502.07px;top:13.25px"><i class="n td" style="left:32.7px;top:32.3px">1</i></div><div class="c co" style="left:502.07px;top:84.32px"><i class="n tw" style="left:32.7px;top:32.8px">2</i></div><div class="c co" style="left:502.07px;top:155.39px"><i class="n tl" style="left:32.7px;top:32.8px">3</i></div><div class="c co" style="left:502.07px;top:226.46px"><i class="n tw" style="left:32.7px;top:32.8px">4</i></div><div class="c co" style="left:502.07px;top:297.53px"><i class="n tl" style="left:32.7px;top:32.8px">5</i></div><div class="c co" style="left:502.07px;top:368.60px"><i class="n td" style="left:32.7px;top:32.8px">6</i></div><div class="c co" style="left:502.07px;top:439.67px"><i class="n tm" style="left:32.7px;top:31.8px">7</i></div><div class="c co" style="left:502.07px;top:510.74px"><i class="n tw" style="left:32.7px;top:32.8px">8</i></div><div class="c co" style="left:502.07px;top:581.81px"><i class="n tw" style="left:32.7px;top:32.8px">9</i></div><div class="c co" style="left:502.07px;top:652.88px"><i class="n tw" style="left:32.7px;top:32.3px">10</i></div><div class="c co" style="left:502.07px;top:723.95px"><i class="n tw" style="left:32.7px;top:32.3px">11</i></div><div class="c co" style="left:502.07px;top:795.02px"><i class="n tw" style="left:32.7px;top:32.3px">12</i></div><div class="c co" style="left:502.07px;top:866.09px"><i class="n tl" style="left:32.7px;top:31.8px">13</i></div><div class="c co" style="left:502.07px;top:937.16px"><i class="n tl" style="left:32.7px;top:31.8px">14</i></div><div class="c co" style="left:502.07px;top:1008.23px"><i class="n tw" style="left:32.7px;top:31.8px">15</i></div><div class="c co" style="left:502.07px;top:1079.30px"><i class="n tl" style="left:32.7px;top:31.8px">16</i></div><div class="c cm" style="left:572.28px;top:13.25px"><i class="n td" style="left:32.7px;top:31.8px">17</i></div><div class="c cm" style="left:572.28px;top:84.32px"><i class="n tl" style="left:32.7px;top:31.8px">18</i></div><div class="c cm" style="left:572.28px;top:155.39px"><i class="n tl" style="left:32.7px;top:31.8px">19</i></div><div class="c cm" style="left:572.28px;top:226.46px"><i class="n tw" style="left:32.7px;top:32.8px">20</i></div><div class="c cm" style="left:572.28px;top:297.53px"><i class="n tw" style="left:32.7px;top:32.8px">21</i></div><div class="c cm" style="left:572.28px;top:368.60px"><i class="n td" style="left:32.7px;top:32.8px">22</i></div><div class="c cm" style="left:572.28px;top:439.67px"><i class="n tm" style="left:32.7px;top:32.3px">23</i></div><div class="c cm" style="left:572.28px;top:510.74px"><i class="n tw" style="left:32.7px;top:32.3px">24</i></div><div class="c cm" style="left:572.28px;top:581.81px"><i class="n tw" style="left:32.7px;top:32.3px">25</i></div><div class="c cm" style="left:572.28px;top:652.88px"><i class="n tw" style="left:32.7px;top:32.3px">26</i></div><div class="c cm" style="left:572.28px;top:723.95px"><i class="n tw" style="left:32.7px;top:32.3px">27</i></div><div class="c cm" style="left:572.28px;top:795.02px"><i class="n tw" style="left:32.7px;top:32.3px">28</i></div><div class="c cm" style="left:572.28px;top:866.09px"><i class="n tw" style="left:32.7px;top:32.3px">29</i></div><div class="c cm" style="left:572.28px;top:937.16px"><i class="n tl" style="left:32.7px;top:32.8px">30</i></div><div class="c cm" style="left:572.28px;top:1008.23px"><i class="n tl" style="left:32.7px;top:32.8px">31</i></div><div class="c cm" style="left:572.28px;top:1079.30px"></div><div class="c cm" style="left:642.49px;top:13.25px"><i class="n td" style="left:32.7px;top:32.3px">1</i></div><div class="c cm" style="left:642.49px;top:84.32px"><i class="n td" style="left:32.7px;top:32.8px">2</i></div><div class="c cm" style="left:642.49px;top:155.39px"><i class="n tw" style="left:32.7px;top:32.8px">3</i></div><div class="c cm" style="left:642.49px;top:226.46px"><i class="n tw" style="left:32.7px;top:32.8px">4</i></div><div class="c cm" style="left:642.49px;top:297.53px"><i class="n tw" style="left:32.7px;top:32.8px">5</i></div><div class="c cm" style="left:642.49px;top:368.60px"><i class="n tm" style="left:32.7px;top:32.8px">6</i></div><div class="c cm" style="left:642.49px;top:439.67px"><i class="n td" style="left:32.7px;top:31.8px">7</i></div><div class="c cm" style="left:642.49px;top:510.74px"><i class="n tl" style="left:32.7px;top:32.8px">8</i></div><div class="c cm" style="left:642.49px;top:581.81px"><i class="n tw" style="left:32.7px;top:32.8px">9</i></div><div class="c cm" style="left:642.49px;top:652.88px"><i class="n tw" style="left:32.7px;top:32.3px">10</i></div><div class="c cm" style="left:642.49px;top:723.95px"><i class="n tw" style="left:32.7px;top:32.3px">11</i></div><div class="c cm" style="left:642.49px;top:795.02px"><i class="n tw" style="left:32.7px;top:32.3px">12</i></div><div class="c cm" style="left:642.49px;top:866.09px"><i class="n tw" style="left:32.7px;top:31.8px">13</i></div><div class="c cm" style="left:642.49px;top:937.16px"><i class="n tl" style="left:32.7px;top:31.8px">14</i></div><div class="c cm" style="left:642.49px;top:1008.23px"><i class="n tl" style="left:32.7px;top:31.8px">15</i></div><div class="c cm" style="left:642.49px;top:1079.30px"><i class="n tw" style="left:32.7px;top:31.8px">16</i></div><div class="c cp" style="left:712.70px;top:13.25px"><i class="n td" style="left:32.7px;top:31.8px">17</i></div><div class="c cp" style="left:712.70px;top:84.32px"><i class="n td" style="left:32.7px;top:31.8px">18</i></div><div class="c cp" style="left:712.70px;top:155.39px"><i class="n tl" style="left:32.7px;top:31.8px">19</i></div><div class="c cp" style="left:712.70px;top:226.46px"><i class="n tl" style="left:32.7px;top:32.8px">20</i></div><div class="c cp" style="left:712.70px;top:297.53px"><i class="n tw" style="left:32.7px;top:32.8px">21</i></div><div class="c cp" style="left:712.70px;top:368.60px"><i class="n tl" style="left:32.7px;top:32.8px">22</i></div><div class="c cp" style="left:712.70px;top:439.67px"><i class="n td" style="left:32.7px;top:32.3px">23</i></div><div class="c cp" style="left:712.70px;top:510.74px"><i class="n td" style="left:32.7px;top:32.3px">24</i></div><div class="c cp" style="left:712.70px;top:581.81px"><i class="n tl" style="left:32.7px;top:32.3px">25</i></div><div class="c cp" style="left:712.70px;top:652.88px"><i class="n tw" style="left:32.7px;top:32.3px">26</i></div><div class="c cp" style="left:712.70px;top:723.95px"><i class="n tw" style="left:32.7px;top:32.3px">27</i></div><div class="c cp" style="left:712.70px;top:795.02px"><i class="n tw" style="left:32.7px;top:32.3px">28</i></div><div class="c cp" style="left:712.70px;top:866.09px"><i class="n tw" style="left:32.7px;top:32.3px">29</i></div><div class="c cp" style="left:712.70px;top:937.16px"><i class="n tl" style="left:32.7px;top:32.8px">30</i></div><div class="c cp" style="left:712.70px;top:1008.23px"><i class="n tl" style="left:32.7px;top:32.8px">31</i></div><div class="c cp" style="left:712.70px;top:1079.30px"></div><div class="c cp" style="left:782.91px;top:13.25px"><i class="n td" style="left:32.7px;top:32.3px">1</i></div><div class="c cp" style="left:782.91px;top:84.32px"><i class="n td" style="left:32.7px;top:32.8px">2</i></div><div class="c cp" style="left:782.91px;top:155.39px"><i class="n td" style="left:32.7px;top:32.8px">3</i></div><div class="c cp" style="left:782.91px;top:226.46px"><i class="n tl" style="left:32.7px;top:32.8px">4</i></div><div class="c cp" style="left:782.91px;top:297.53px"><i class="n tw" style="left:32.7px;top:32.8px">5</i></div><div class="c cp" style="left:782.91px;top:368.60px"><i class="n tw" style="left:32.7px;top:32.8px">6</i></div><div class="c cp" style="left:782.91px;top:439.67px"><i class="n tm" style="left:32.7px;top:31.8px">7</i></div><div class="c cp" style="left:782.91px;top:510.74px"><i class="n td" style="left:32.7px;top:32.8px">8</i></div><div class="c cp" style="left:782.91px;top:581.81px"><i class="n tm" style="left:32.7px;top:32.8px">9</i></div><div class="c cp" style="left:782.91px;top:652.88px"><i class="n tw" style="left:32.7px;top:32.3px">10</i></div><div class="c cp" style="left:782.91px;top:723.95px"><i class="n tw" style="left:32.7px;top:32.3px">11</i></div><div class="c cp" style="left:782.91px;top:795.02px"><i class="n tw" style="left:32.7px;top:32.3px">12</i></div><div class="c cp" style="left:782.91px;top:866.09px"><i class="n tw" style="left:32.7px;top:31.8px">13</i></div><div class="c cp" style="left:782.91px;top:937.16px"><i class="n tw" style="left:32.7px;top:31.8px">14</i></div><div class="c cp" style="left:782.91px;top:1008.23px"><i class="n tl" style="left:32.7px;top:31.8px">15</i></div><div class="c cp" style="left:782.91px;top:1079.30px"><i class="n tl" style="left:32.7px;top:31.8px">16</i></div></div>

<svg style="position:absolute;left:0;top:0" width="1600" height="1600" viewBox="0 0 1600 1600">
 <g stroke="#000" fill="none">
  <line x1="1355" y1="113.5" x2="1547" y2="113.5" stroke-width="2.9" stroke-dasharray="11.9 6.1"/>
  <line x1="1421.5" y1="127.1" x2="1421.5" y2="336.7" stroke-width="2.8" stroke-dasharray="11.6 6.4"/>
  <line x1="1484.6" y1="127.1" x2="1484.6" y2="336.7" stroke-width="2.8" stroke-dasharray="11.6 6.4"/>
  <line x1="1523.4" y1="315" x2="1523.4" y2="1425" stroke-width="3"/>
  <line x1="662" y1="1471.3" x2="1472" y2="1471.3" stroke-width="2.8"/>
 </g>
 <g fill="#000">
  <polygon points="1523.4,289.2 1515.9,318.8 1531.1,318.8"/>
  <polygon points="1523.4,1449.6 1515.9,1420 1531.1,1420"/>
  <polygon points="637.5,1471.3 667,1464 667,1478.6"/>
  <polygon points="1496.5,1471.3 1467,1464 1467,1478.6"/>
 </g>
</svg>


<div class="lab" style="left:1302px;top:65px;font-size:51px;transform:scaleX(0.859)">1CM/0.4INCH</div>
<div class="lab" style="left:917px;top:1489px;font-size:51px;transform:scaleX(0.86)">15CM/5.9INCH</div>
<div class="lab" style="left:1580.5px;top:720.5px;font-size:51px;transform:rotate(90deg) scaleX(0.86)">20CM/7.9INCH</div>

</body></html>
